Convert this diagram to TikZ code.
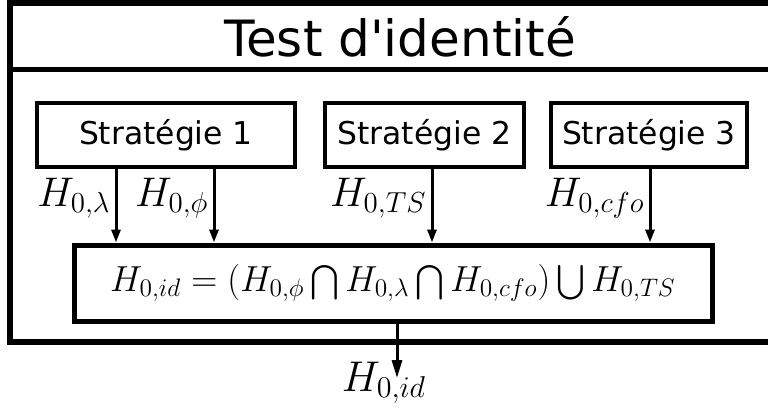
\RequirePackage{fix-cm}
\documentclass[tikz,border=0pt]{standalone}
\usepackage{amsmath}
\usepackage{fontspec}
\newfontfamily\dejavu{DejaVu Sans}
\usetikzlibrary{positioning, arrows.meta}

\tikzset{
  strat/.style={draw, line width=2pt, minimum height=32pt, inner sep=0pt,
    font=\dejavu\fontsize{15.7}{18}\selectfont},
  flow/.style={-{Triangle[length=6.5pt, width=4.5pt]}, line width=1.5pt},
  hlabel/.style={font=\fontsize{20.7}{24}\selectfont},
}

\begin{document}
\begin{tikzpicture}[x=0.5pt, y=-0.5pt]
    \path[use as bounding box, clip] (0,0) rectangle (768,409);

    % cadre du test
    \draw[line width=3pt] (790,3) -- (10,3) -- (10,342) -- (790,342);
    \draw[line width=2.5pt] (10,69) -- (790,69);
    \node[font=\dejavu\fontsize{25}{30}\selectfont] (titre) at (400,37) {Test d'identité};

    % strategies
    \node[strat, minimum width=129pt] (s1) at (166,135) {Stratégie 1};
    \node[strat, minimum width=99.5pt] (s2) at (424.5,135) {Stratégie 2};
    \node[strat, minimum width=98pt] (s3) at (649,135) {Stratégie 3};

    % decision
    \node[draw, line width=2.5pt, minimum width=319pt, minimum height=38pt,
          font=\fontsize{18.1}{22}\selectfont] (id) at (393,283)
        {$H_{0,id}=(H_{0,\phi}\bigcap H_{0,\lambda}\bigcap H_{0,cfo})\bigcup H_{0,TS}$};

    \draw[flow] (s1.south -| 116,0) -- (id.north -| 116,0) node[hlabel, pos=0.4, left, inner sep=2pt] {$H_{0,\lambda}$};
    \draw[flow] (s1.south -| 214,0) -- (id.north -| 214,0) node[hlabel, pos=0.4, left, inner sep=2pt] {$H_{0,\phi}$};
    \draw[flow] (s2.south -| 432,0) -- (id.north -| 432,0) node[hlabel, pos=0.4, left, inner sep=2pt] {$H_{0,TS}$};
    \draw[flow] (s3.south -| 650,0) -- (id.north -| 650,0) node[hlabel, pos=0.4, left, inner sep=2pt] {$H_{0,cfo}$};

    % sortie
    \coordinate (fin) at (397,378);
    \node[font=\fontsize{21.5}{25}\selectfont, inner sep=0pt] (sortie) at (384,383) {$H_{0,id}$};
    \draw[-{Triangle[length=9pt, width=5pt]}, line width=1.5pt] (id.south -| fin) -- (fin);
\end{tikzpicture}
\end{document}
